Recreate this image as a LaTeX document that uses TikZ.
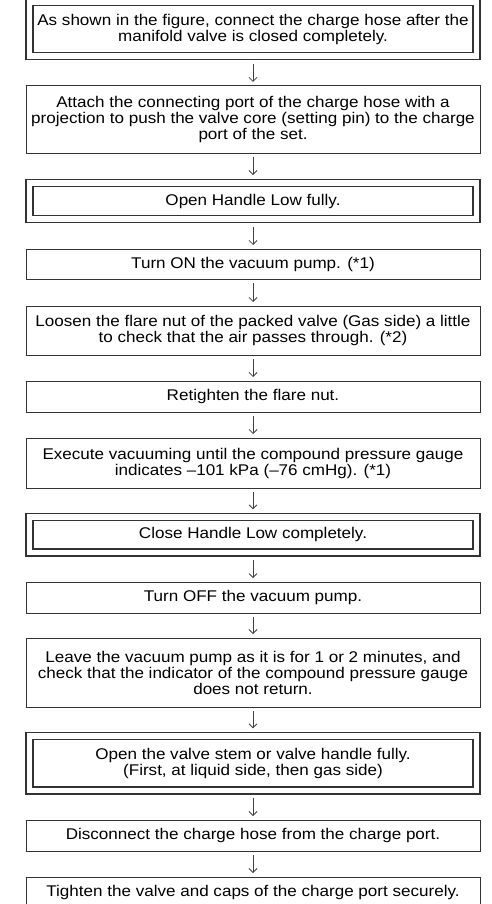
\documentclass[tikz,border=0pt]{standalone}
\usepackage{fontspec}
\setmainfont{Liberation Sans}[FakeStretch=1.10]
\usetikzlibrary{arrows.meta}

\tikzset{
  stepbox/.style={draw=black!80, line width=1pt, minimum width=454pt, align=center, inner sep=0pt, font=\fontsize{15.5}{16}\selectfont},
  keybox/.style={stepbox, double, double distance=5.8pt, line width=1.2pt, minimum width=447pt, outer sep=4.1pt},
  flow/.style={draw=black!75, line width=0.8pt, -{Straight Barb[length=4pt,width=8pt]}, shorten <=3.5pt, shorten >=3.5pt}
}

\begin{document}
\begin{tikzpicture}[x=1pt,y=-1pt]
    \useasboundingbox (0,0) rectangle (491,904);
    % steps, top to bottom
    \node[keybox, minimum height=54pt] (s1) at (253,29) {As shown in the figure, connect the charge hose after the\\manifold valve is closed completely.};
    \node[stepbox, minimum height=67.5pt] (s2) at (253,119.7) {Attach the connecting port of the charge hose with a\\projection to push the valve core (setting pin) to the charge\\port of the set.};
    \node[keybox, minimum height=36.7pt] (s3) at (253,201) {Open Handle Low fully.};
    \node[stepbox, minimum height=30pt] (s4) at (253,264) {Turn ON the vacuum pump. (*1)};
    \node[stepbox, minimum height=49pt] (s5) at (253,330.5) {Loosen the flare nut of the packed valve (Gas side) a little\\to check that the air passes through. (*2)};
    \node[stepbox, minimum height=31pt] (s6) at (253,396.5) {Retighten the flare nut.};
    \node[stepbox, minimum height=50pt] (s7) at (253,463) {Execute vacuuming until the compound pressure gauge\\indicates –101 kPa (–76 cmHg). (*1)};
    \node[keybox, minimum height=35.5pt] (s8) at (253,534.7) {Close Handle Low completely.};
    \node[stepbox, minimum height=31pt] (s9) at (253,597.6) {Turn OFF the vacuum pump.};
    \node[stepbox, minimum height=69pt] (s10) at (253,672.5) {Leave the vacuum pump as it is for 1 or 2 minutes, and\\check that the indicator of the compound pressure gauge\\does not return.};
    \node[keybox, minimum height=54.5pt] (s11) at (253,763.2) {Open the valve stem or valve handle fully.\\(First, at liquid side, then gas side)};
    \node[stepbox, minimum height=31pt] (s12) at (253,835.5) {Disconnect the charge hose from the charge port.};
    \node[stepbox, minimum height=31pt] (s13) at (253,892.5) {Tighten the valve and caps of the charge port securely.};

    % arrows between steps
    \draw[flow] (s1) -- (s2); \draw[flow] (s2) -- (s3); \draw[flow] (s3) -- (s4); \draw[flow] (s4) -- (s5);
    \draw[flow] (s5) -- (s6); \draw[flow] (s6) -- (s7); \draw[flow] (s7) -- (s8); \draw[flow] (s8) -- (s9);
    \draw[flow] (s9) -- (s10); \draw[flow] (s10) -- (s11); \draw[flow] (s11) -- (s12); \draw[flow] (s12) -- (s13);
\end{tikzpicture}
\end{document}
